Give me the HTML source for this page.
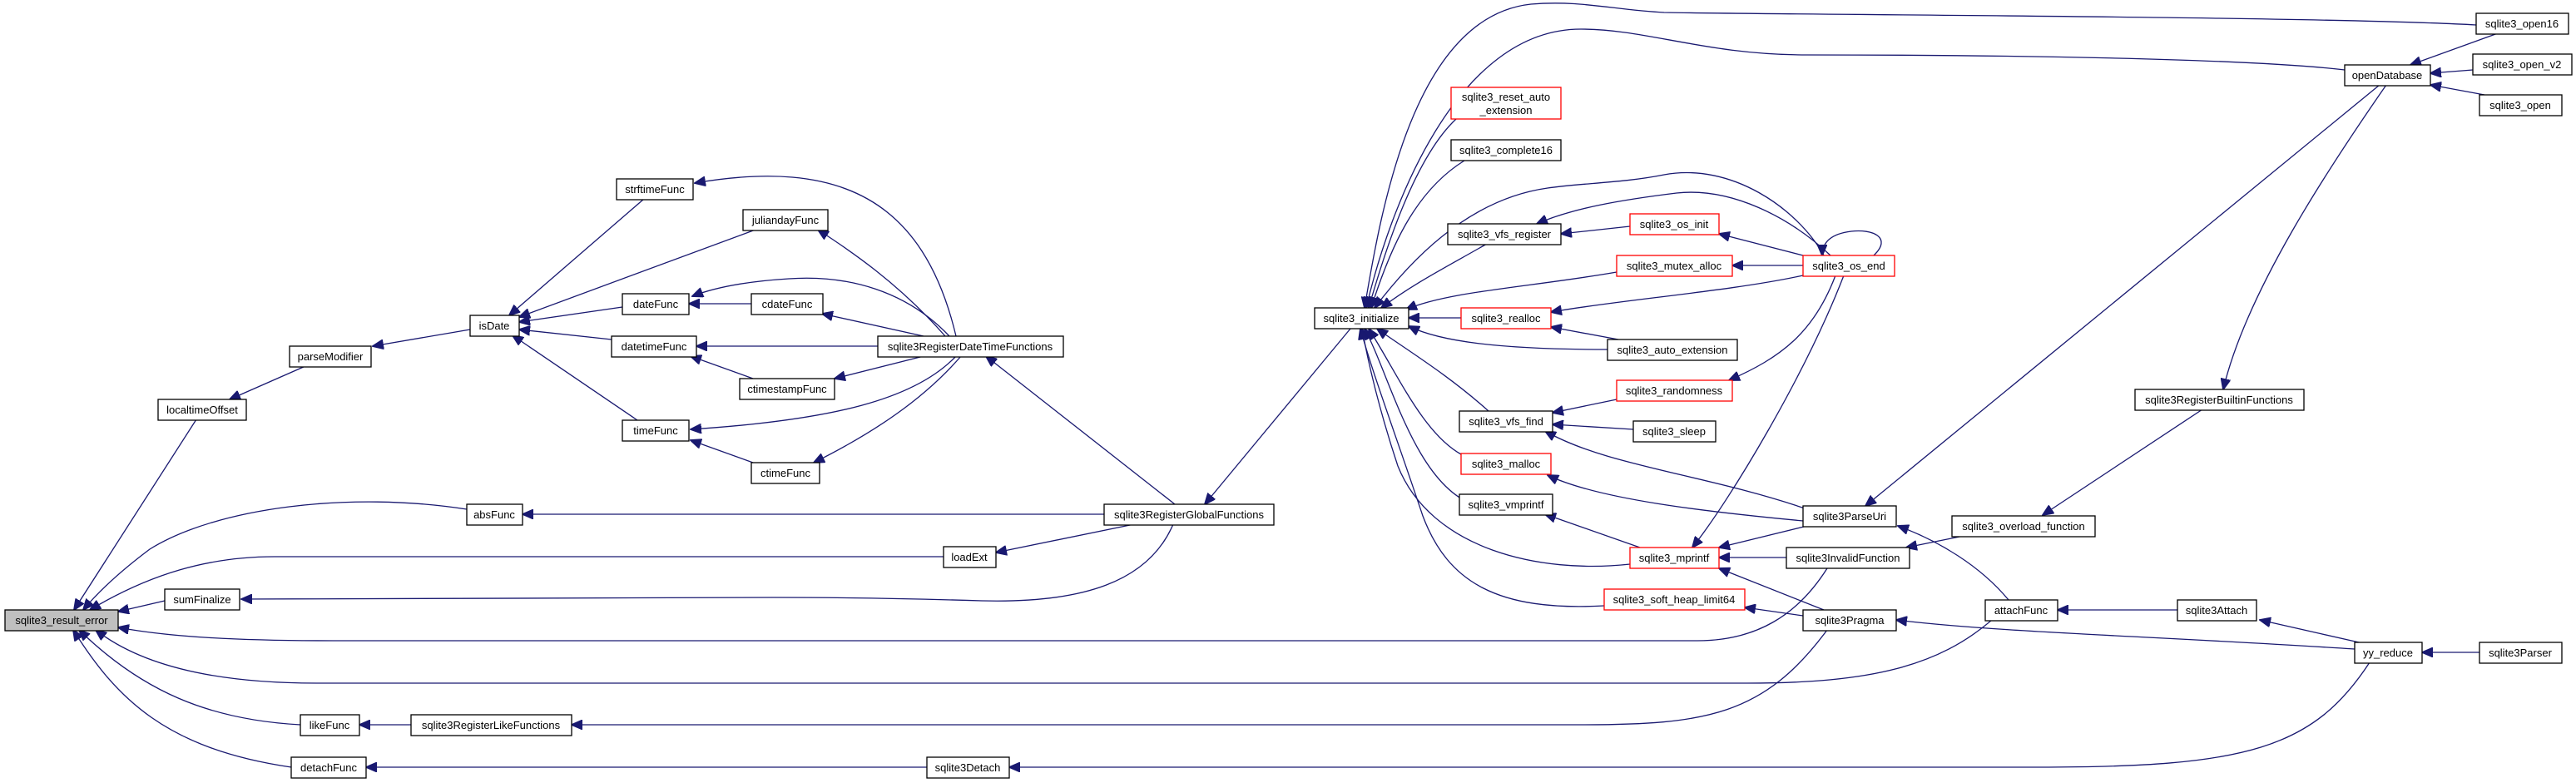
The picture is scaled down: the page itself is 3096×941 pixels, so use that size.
<!DOCTYPE html>
<html><head><meta charset="utf-8"><style>
html,body{margin:0;padding:0;background:#fff;}
svg{display:block;}
text{font-family:"Liberation Sans",Arial,sans-serif;font-size:13px;fill:#000;}
.n{fill:#fff;stroke:#000;stroke-width:1.3;}
.r{fill:#fff;stroke:#ff0000;stroke-width:1.3;}
.e{fill:none;stroke:#191970;stroke-width:1.3;marker-end:url(#a);}
</style></head><body>
<svg width="3096" height="941" viewBox="0 0 3096 941" xmlns="http://www.w3.org/2000/svg">
<defs><marker id="a" markerUnits="userSpaceOnUse" markerWidth="14" markerHeight="12" refX="13" refY="6" orient="auto"><path d="M0,0 L14,6 L0,12 z" fill="#191970" stroke="#191970"/></marker></defs>
<g>
<path class="e" d="M236,504 L89,733"/>
<path class="e" d="M367,440 L276,480"/>
<path class="e" d="M565,396 L448,416"/>
<path class="e" d="M774,239 L612,379"/>
<path class="e" d="M908,276 L624,381"/>
<path class="e" d="M748,369 L624,387"/>
<path class="e" d="M735,408 L624,396"/>
<path class="e" d="M766,505 L616,403"/>
<path class="e" d="M1149,404 C1110,240 1010,190 835,220"/>
<path class="e" d="M1136,404 C1080,340 1020,300 983,276"/>
<path class="e" d="M1141,404 C1090,350 1020,330 948,335 C900,338 860,345 832,356"/>
<path class="e" d="M903,365 L828,365"/>
<path class="e" d="M1110,404 L988,377"/>
<path class="e" d="M1055,416 L837,416"/>
<path class="e" d="M905,455 L830,428"/>
<path class="e" d="M1110,428 L1003,455"/>
<path class="e" d="M1149,428 C1100,480 1000,505 830,516"/>
<path class="e" d="M905,556 L830,529"/>
<path class="e" d="M1155,428 C1110,480 1050,520 978,556"/>
<path class="e" d="M1412,606 L1185,428"/>
<path class="e" d="M561,612 C420,590 260,610 180,660 C140,690 115,715 100,733"/>
<path class="e" d="M1327,618 L628,618"/>
<path class="e" d="M1134,669 L330,669 C250,669 180,690 108,733"/>
<path class="e" d="M1363,630 L1197,664"/>
<path class="e" d="M198,722 L142,735"/>
<path class="e" d="M1410,630 C1380,700 1300,725 1180,722 C1080,719 1000,718 930,718 L290,720"/>
<path class="e" d="M2196,683 C2160,740 2110,770 2040,770 L400,770 C280,770 200,765 142,754"/>
<path class="e" d="M2394,745 C2330,800 2250,821 2100,821 L380,821 C260,821 170,800 115,757"/>
<path class="e" d="M361,871 C250,865 170,830 95,757"/>
<path class="e" d="M494,871 L432,871"/>
<path class="e" d="M2196,757 C2120,860 2050,871 1900,871 L687,871"/>
<path class="e" d="M350,922 C200,900 140,840 88,757"/>
<path class="e" d="M1114,922 L440,922"/>
<path class="e" d="M2848,796 C2780,900 2700,922 2450,922 L1213,922"/>
<path class="e" d="M1623,395 L1448,606"/>
<path class="e" d="M2976,30 C2800,20 2200,18 2000,15 C1940,12 1900,0 1840,5 C1700,20 1660,250 1640,370"/>
<path class="e" d="M2818,84 C2700,70 2400,66 2172,66 C2050,66 1980,35 1900,35 C1750,35 1670,250 1642,370"/>
<path class="e" d="M1750,143 C1700,190 1665,300 1645,370"/>
<path class="e" d="M1760,193 C1700,230 1670,300 1648,370"/>
<path class="e" d="M1787,293 C1740,320 1700,340 1660,370"/>
<path class="e" d="M2192,307 C2160,250 2080,195 2000,210 C1950,220 1900,220 1860,226 C1760,240 1690,320 1652,370"/>
<path class="e" d="M2200,307 C2150,260 2080,225 2015,232 C1950,240 1890,250 1847,269"/>
<path class="e" d="M1959,272 L1876,281"/>
<path class="e" d="M2167,307 L2066,281"/>
<path class="e" d="M2252,307 C2275,285 2250,275 2225,278 C2200,281 2190,292 2190,307"/>
<path class="e" d="M1943,327 C1840,345 1740,350 1690,372"/>
<path class="e" d="M2167,319 L2082,319"/>
<path class="e" d="M2167,331 C2080,350 1950,360 1864,375"/>
<path class="e" d="M1756,382 L1693,382"/>
<path class="e" d="M1945,408 L1864,393"/>
<path class="e" d="M1932,420 C1800,420 1730,410 1693,392"/>
<path class="e" d="M2206,331 C2180,400 2140,430 2078,457"/>
<path class="e" d="M1943,480 L1866,496"/>
<path class="e" d="M1789,494 C1740,450 1690,420 1655,395"/>
<path class="e" d="M1963,516 L1866,510"/>
<path class="e" d="M2172,612 C2050,570 1930,560 1857,518"/>
<path class="e" d="M1756,546 C1710,520 1680,450 1645,395"/>
<path class="e" d="M2167,626 C2050,615 1920,600 1860,571"/>
<path class="e" d="M1770,606 C1700,580 1670,450 1640,395"/>
<path class="e" d="M1971,658 L1857,618"/>
<path class="e" d="M1959,678 C1850,690 1720,660 1680,560 C1660,500 1645,440 1637,395"/>
<path class="e" d="M2216,331 C2170,450 2080,600 2034,658"/>
<path class="e" d="M2172,632 L2066,658"/>
<path class="e" d="M2147,670 L2066,670"/>
<path class="e" d="M2192,733 L2066,683"/>
<path class="e" d="M1928,728 C1800,735 1740,700 1710,620 C1680,530 1650,450 1635,395"/>
<path class="e" d="M2167,740 L2097,730"/>
<path class="e" d="M2860,102 L2242,608"/>
<path class="e" d="M2868,102 C2800,200 2700,350 2672,468"/>
<path class="e" d="M2647,492 L2455,619"/>
<path class="e" d="M2360,644 L2291,658"/>
<path class="e" d="M2414,721 C2380,680 2330,650 2281,632"/>
<path class="e" d="M2830,780 C2600,765 2400,760 2279,745"/>
<path class="e" d="M2617,733 L2473,733"/>
<path class="e" d="M2844,774 L2716,745"/>
<path class="e" d="M2980,784 L2911,784"/>
<path class="e" d="M3002,40 L2897,78"/>
<path class="e" d="M2972,84 L2921,88"/>
<path class="e" d="M2986,114 L2921,102"/>
</g>
<g>
<rect x="6" y="733" width="136" height="25" fill="#bfbfbf" stroke="#000" stroke-width="1.3"/><text x="74" y="750" text-anchor="middle">sqlite3_result_error</text>
<rect class="n" x="190" y="480" width="106" height="25"/><text x="243" y="497" text-anchor="middle">localtimeOffset</text>
<rect class="n" x="348" y="416" width="98" height="25"/><text x="397" y="433" text-anchor="middle">parseModifier</text>
<rect class="n" x="565" y="379" width="59" height="25"/><text x="594" y="396" text-anchor="middle">isDate</text>
<rect class="n" x="741" y="215" width="92" height="25"/><text x="787" y="232" text-anchor="middle">strftimeFunc</text>
<rect class="n" x="893" y="252" width="102" height="25"/><text x="944" y="269" text-anchor="middle">juliandayFunc</text>
<rect class="n" x="748" y="353" width="80" height="25"/><text x="788" y="370" text-anchor="middle">dateFunc</text>
<rect class="n" x="903" y="353" width="86" height="25"/><text x="946" y="370" text-anchor="middle">cdateFunc</text>
<rect class="n" x="735" y="404" width="102" height="25"/><text x="786" y="421" text-anchor="middle">datetimeFunc</text>
<rect class="n" x="1055" y="404" width="223" height="25"/><text x="1166" y="421" text-anchor="middle">sqlite3RegisterDateTimeFunctions</text>
<rect class="n" x="889" y="455" width="114" height="25"/><text x="946" y="472" text-anchor="middle">ctimestampFunc</text>
<rect class="n" x="748" y="505" width="80" height="25"/><text x="788" y="522" text-anchor="middle">timeFunc</text>
<rect class="n" x="903" y="556" width="82" height="25"/><text x="944" y="573" text-anchor="middle">ctimeFunc</text>
<rect class="n" x="561" y="606" width="67" height="25"/><text x="594" y="623" text-anchor="middle">absFunc</text>
<rect class="n" x="1327" y="606" width="204" height="25"/><text x="1429" y="623" text-anchor="middle">sqlite3RegisterGlobalFunctions</text>
<rect class="n" x="1134" y="657" width="63" height="25"/><text x="1165" y="674" text-anchor="middle">loadExt</text>
<rect class="n" x="198" y="708" width="90" height="25"/><text x="243" y="725" text-anchor="middle">sumFinalize</text>
<rect class="n" x="361" y="859" width="71" height="25"/><text x="396" y="876" text-anchor="middle">likeFunc</text>
<rect class="n" x="494" y="859" width="193" height="25"/><text x="590" y="876" text-anchor="middle">sqlite3RegisterLikeFunctions</text>
<rect class="n" x="350" y="910" width="90" height="25"/><text x="395" y="927" text-anchor="middle">detachFunc</text>
<rect class="n" x="1114" y="910" width="99" height="25"/><text x="1163" y="927" text-anchor="middle">sqlite3Detach</text>
<rect class="n" x="1580" y="370" width="113" height="25"/><text x="1636" y="387" text-anchor="middle">sqlite3_initialize</text>
<rect class="r" x="1744" y="105" width="132" height="38"/><text x="1810" y="121" text-anchor="middle">sqlite3_reset_auto</text><text x="1810" y="137" text-anchor="middle">_extension</text>
<rect class="n" x="1744" y="168" width="132" height="25"/><text x="1810" y="185" text-anchor="middle">sqlite3_complete16</text>
<rect class="n" x="1740" y="269" width="136" height="25"/><text x="1808" y="286" text-anchor="middle">sqlite3_vfs_register</text>
<rect class="r" x="1959" y="257" width="107" height="25"/><text x="2012" y="274" text-anchor="middle">sqlite3_os_init</text>
<rect class="r" x="1943" y="307" width="139" height="25"/><text x="2012" y="324" text-anchor="middle">sqlite3_mutex_alloc</text>
<rect class="r" x="2167" y="307" width="110" height="25"/><text x="2222" y="324" text-anchor="middle">sqlite3_os_end</text>
<rect class="r" x="1756" y="370" width="108" height="25"/><text x="1810" y="387" text-anchor="middle">sqlite3_realloc</text>
<rect class="n" x="1932" y="408" width="156" height="25"/><text x="2010" y="425" text-anchor="middle">sqlite3_auto_extension</text>
<rect class="r" x="1943" y="457" width="139" height="25"/><text x="2012" y="474" text-anchor="middle">sqlite3_randomness</text>
<rect class="n" x="1754" y="494" width="112" height="25"/><text x="1810" y="511" text-anchor="middle">sqlite3_vfs_find</text>
<rect class="n" x="1963" y="506" width="99" height="25"/><text x="2012" y="523" text-anchor="middle">sqlite3_sleep</text>
<rect class="r" x="1756" y="545" width="108" height="25"/><text x="1810" y="562" text-anchor="middle">sqlite3_malloc</text>
<rect class="n" x="1754" y="594" width="112" height="25"/><text x="1810" y="611" text-anchor="middle">sqlite3_vmprintf</text>
<rect class="r" x="1959" y="658" width="107" height="25"/><text x="2012" y="675" text-anchor="middle">sqlite3_mprintf</text>
<rect class="r" x="1928" y="708" width="169" height="25"/><text x="2012" y="725" text-anchor="middle">sqlite3_soft_heap_limit64</text>
<rect class="n" x="2167" y="608" width="112" height="25"/><text x="2223" y="625" text-anchor="middle">sqlite3ParseUri</text>
<rect class="n" x="2147" y="658" width="148" height="25"/><text x="2221" y="675" text-anchor="middle">sqlite3InvalidFunction</text>
<rect class="n" x="2167" y="733" width="112" height="25"/><text x="2223" y="750" text-anchor="middle">sqlite3Pragma</text>
<rect class="n" x="2386" y="721" width="87" height="25"/><text x="2429" y="738" text-anchor="middle">attachFunc</text>
<rect class="n" x="2346" y="620" width="172" height="25"/><text x="2432" y="637" text-anchor="middle">sqlite3_overload_function</text>
<rect class="n" x="2566" y="468" width="203" height="25"/><text x="2667" y="485" text-anchor="middle">sqlite3RegisterBuiltinFunctions</text>
<rect class="n" x="2818" y="78" width="103" height="25"/><text x="2869" y="95" text-anchor="middle">openDatabase</text>
<rect class="n" x="2976" y="16" width="111" height="25"/><text x="3031" y="33" text-anchor="middle">sqlite3_open16</text>
<rect class="n" x="2972" y="65" width="119" height="25"/><text x="3031" y="82" text-anchor="middle">sqlite3_open_v2</text>
<rect class="n" x="2980" y="114" width="99" height="25"/><text x="3029" y="131" text-anchor="middle">sqlite3_open</text>
<rect class="n" x="2617" y="721" width="95" height="25"/><text x="2664" y="738" text-anchor="middle">sqlite3Attach</text>
<rect class="n" x="2830" y="772" width="81" height="25"/><text x="2870" y="789" text-anchor="middle">yy_reduce</text>
<rect class="n" x="2980" y="772" width="99" height="25"/><text x="3029" y="789" text-anchor="middle">sqlite3Parser</text>
</g>
</svg>
</body></html>
